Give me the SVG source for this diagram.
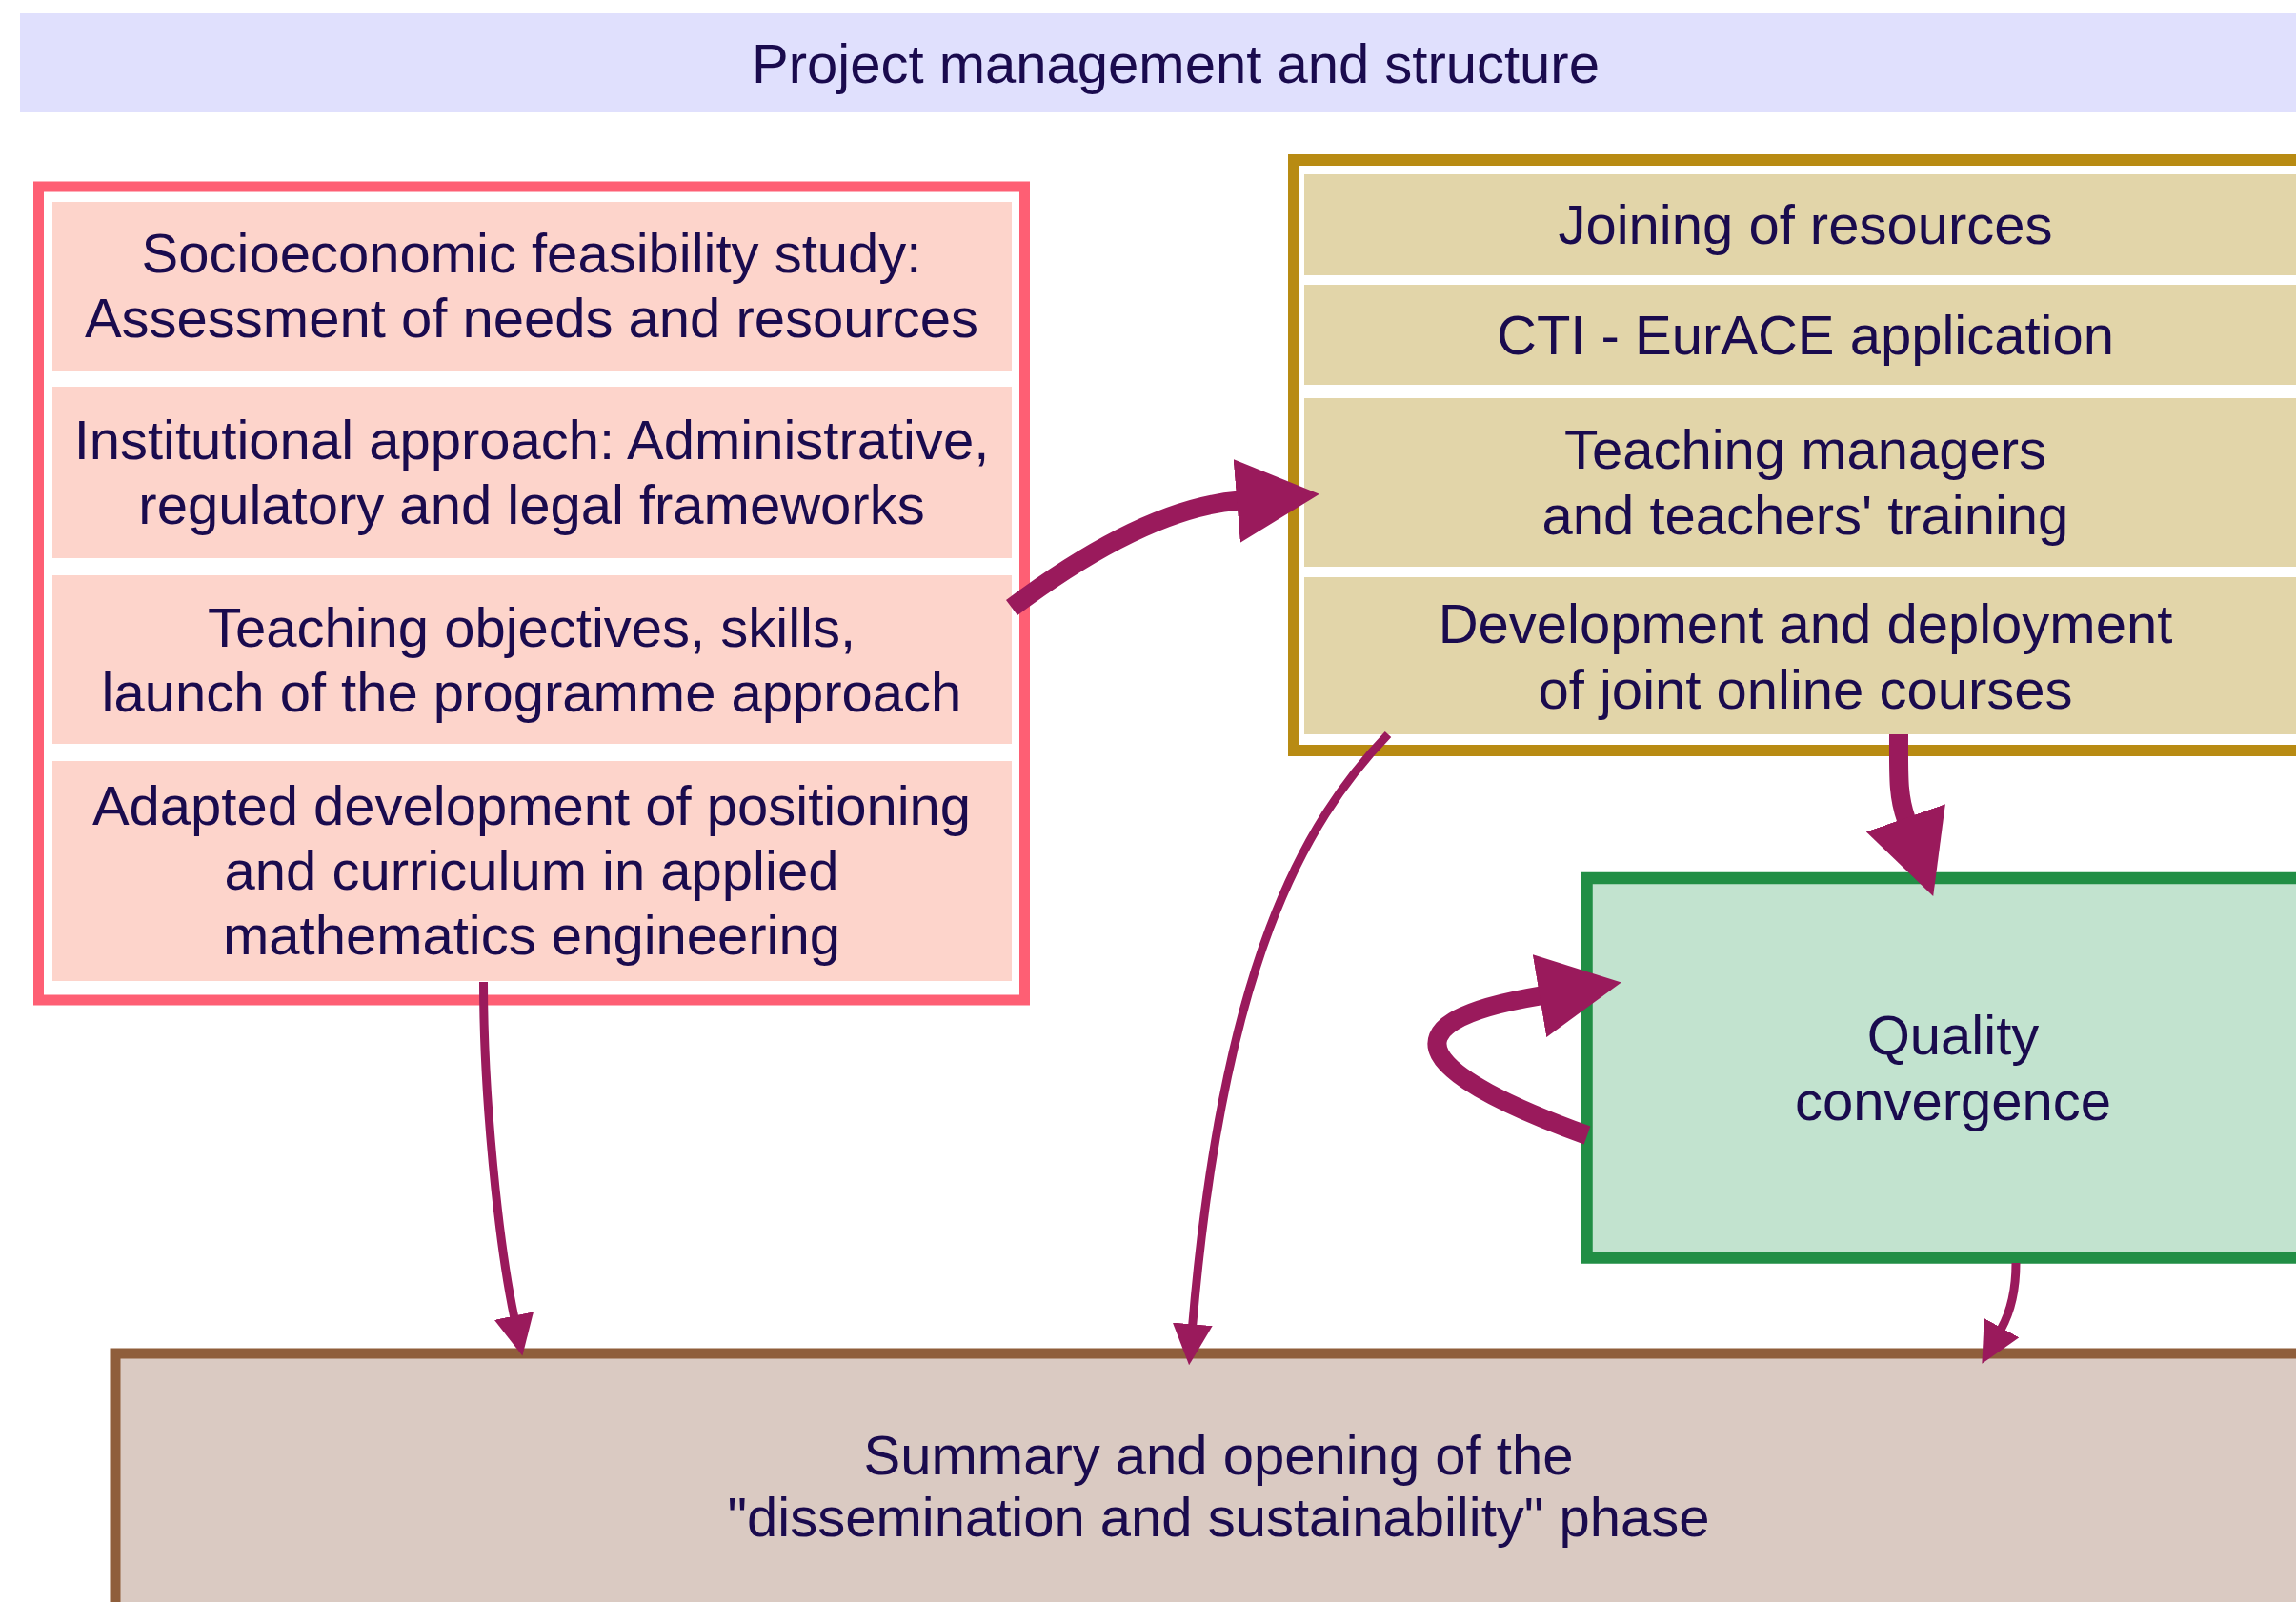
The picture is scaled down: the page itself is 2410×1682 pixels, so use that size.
<svg xmlns="http://www.w3.org/2000/svg" width="2410" height="1682" viewBox="0 0 2410 1682">
<defs>
<style>
text{font-family:"Liberation Sans",Arial,Helvetica,sans-serif;font-size:58px;fill:#1a0b4e;text-anchor:middle}
.pinkcell{fill:#fdd4cb}
.goldcell{fill:#e2d5a9}
.conn{fill:none;stroke:#9a1a5c;stroke-linecap:butt}
.thick{stroke-width:20}
.thin{stroke-width:9}
</style>
<marker id="headThick" viewBox="0 0 87 88" refX="1" refY="44" markerWidth="87" markerHeight="88" markerUnits="userSpaceOnUse" orient="auto">
<path d="M0,0 L87,44 L0,88 z" fill="#9a1a5c"/>
</marker>
<marker id="headThin" viewBox="0 0 43 42" refX="1" refY="21" markerWidth="43" markerHeight="42" markerUnits="userSpaceOnUse" orient="auto">
<path d="M0,0 L43,21 L0,42 z" fill="#9a1a5c"/>
</marker>
</defs>
<rect width="2410" height="1682" fill="#ffffff"/>

<g id="banner">
<rect x="21" y="14" width="2430" height="104" fill="#e0e0fd"/>
<text x="1234" y="87">Project management and structure</text>
</g>

<g id="summary">
<rect x="121" y="1421" width="2330" height="300" fill="#dacac2" stroke="#8f5e3b" stroke-width="11"/>
<text x="1279" y="1548">Summary and opening of the</text>
<text x="1279" y="1613">"dissemination and sustainability" phase</text>
</g>

<g id="quality">
<rect x="1665.5" y="922" width="780" height="398.5" fill="#c2e3cf" stroke="#218e45" stroke-width="12.5"/>
<text x="2050" y="1107">Quality</text>
<text x="2050" y="1176">convergence</text>
</g>

<g id="resources">
<rect x="1358" y="168" width="1090" height="620" fill="#ffffff" stroke="#b88b13" stroke-width="12"/>
<rect class="goldcell" x="1369" y="183" width="1052" height="106"/>
<text x="1895" y="256">Joining of resources</text>
<rect class="goldcell" x="1369" y="299" width="1052" height="105"/>
<text x="1895" y="372">CTI - EurACE application</text>
<rect class="goldcell" x="1369" y="418" width="1052" height="177"/>
<text x="1895" y="492">Teaching managers</text>
<text x="1895" y="561">and teachers' training</text>
<rect class="goldcell" x="1369" y="606" width="1052" height="165"/>
<text x="1895" y="675">Development and deployment</text>
<text x="1895" y="744">of joint online courses</text>
</g>

<g id="foundations">
<rect x="40.5" y="196" width="1035" height="854" fill="#ffffff" stroke="#fe5f74" stroke-width="11"/>
<rect class="pinkcell" x="55" y="212" width="1007" height="178"/>
<text x="558" y="286">Socioeconomic feasibility study:</text>
<text x="558" y="354">Assessment of needs and resources</text>
<rect class="pinkcell" x="55" y="406" width="1007" height="180"/>
<text x="558" y="482">Institutional approach: Administrative,</text>
<text x="558" y="550">regulatory and legal frameworks</text>
<rect class="pinkcell" x="55" y="604" width="1007" height="177"/>
<text x="558" y="679">Teaching objectives, skills,</text>
<text x="558" y="747">launch of the programme approach</text>
<rect class="pinkcell" x="55" y="799" width="1007" height="231"/>
<text x="558" y="866">Adapted development of positioning</text>
<text x="558" y="934">and curriculum in applied</text>
<text x="558" y="1002">mathematics engineering</text>
</g>

<g id="connectors">
<path class="conn thick" d="M1062,638 Q1200.8,533.9 1299.2,525.8" marker-end="url(#headThick)"/>
<path class="conn thick" d="M1993,771 C1993,815 1992,835 2000.7,859.8" marker-end="url(#headThick)"/>
<path class="conn thick" d="M1666,1192 C1496.8,1130.8 1439.3,1075 1617,1045.5" marker-end="url(#headThick)"/>
<path class="conn thin" d="M507.5,1031 C507.5,1151 523.2,1304.2 539.7,1382.5" marker-end="url(#headThin)"/>
<path class="conn thin" d="M1457,771 C1367,865 1284,1013 1251.7,1391.3" marker-end="url(#headThin)"/>
<path class="conn thin" d="M2116,1326 Q2116,1367 2100.6,1395" marker-end="url(#headThin)"/>
</g>
</svg>
